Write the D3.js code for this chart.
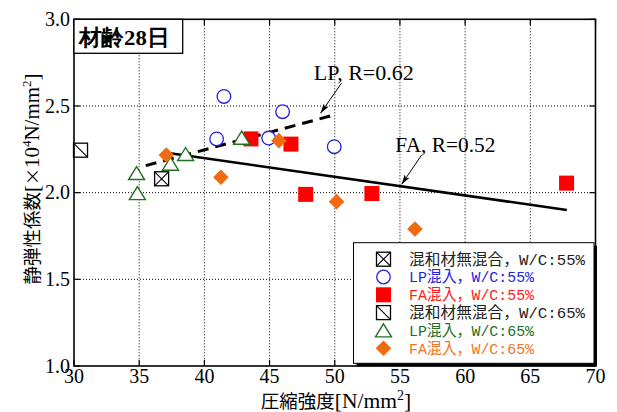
<!DOCTYPE html>
<html>
<head>
<meta charset="utf-8">
<script src="https://cdn.jsdelivr.net/npm/d3@7/dist/d3.min.js"></script>
<style>
  body { margin: 0; background: #fff; }
  svg { display: block; }
</style>
</head>
<body>
<div id="chart"></div>
<script>
// valeurs (材齢28日)
const xTicks = [30, 35, 40, 45, 50, 55, 60, 65, 70];
const yTicks = [1.0, 1.5, 2.0, 2.5, 3.0];
const xGrid = [35, 40, 45, 50, 55, 60, 65];
const yGrid = [1.5, 2.0, 2.5];

const nonMix55 = [[36.72, 2.08]];
const lp55 = [[40.94, 2.31], [41.5, 2.555], [44.93, 2.315], [46.0, 2.467], [49.96, 2.265]];
const fa55 = [[43.57, 2.31], [46.64, 2.28], [47.77, 1.99], [52.85, 1.995], [67.78, 2.055]];
const nonMix65 = [[30.5, 2.245]];
const lp65 = [[34.8, 2.113], [34.86, 1.997], [37.4, 2.167], [38.56, 2.223], [42.86, 2.317]];
const fa65 = [[37.08, 2.217], [41.27, 2.089], [45.72, 2.30], [50.14, 1.948], [56.15, 1.79]];

const lpFit = [[35.5, 2.156], [49.7, 2.443]];
const faFit = [[37.1, 2.23], [67.8, 1.90]];

const legendLabels = ["混和材無混合，W/C:55%", "LP混入，W/C:55%", "FA混入，W/C:55%",
                      "混和材無混合，W/C:65%", "LP混入，W/C:65%", "FA混入，W/C:65%"];

const series = [
  { data: nonMix55, shape: "xbox", color: "#000", text: "#222" },
  { data: lp55, shape: "circle", color: "#2424dc", text: "#2424dc" },
  { data: fa55, shape: "square", color: "#ff0000", text: "#ff1a1a" },
  { data: nonMix65, shape: "bsbox", color: "#000", text: "#222" },
  { data: lp65, shape: "triangle", color: "#237023", text: "#237023" },
  { data: fa65, shape: "diamond", color: "#ef6b12", text: "#ef7526" }
];

const width = 617, height = 412;
const plotLeft = 74, plotRight = 595.5, plotTop = 19.3, plotBottom = 366;

const x = d3.scaleLinear().domain([30, 70]).range([plotLeft, plotRight]);
const y = d3.scaleLinear().domain([1, 3]).range([plotBottom, plotTop]);

const svg = d3.select("#chart").append("svg")
  .attr("width", width)
  .attr("height", height);

const defs = svg.append("defs");
defs.append("marker")
  .attr("id", "arrow")
  .attr("markerUnits", "userSpaceOnUse")
  .attr("viewBox", "0 0 10 6")
  .attr("refX", 10).attr("refY", 3)
  .attr("markerWidth", 10).attr("markerHeight", 6)
  .attr("orient", "auto")
  .append("path")
  .attr("d", "M0,0 L10,3 L0,6 L2.5,3 Z")
  .attr("fill", "#000");

// grille pointillée
svg.append("g").selectAll("line").data(xGrid).join("line")
  .attr("x1", d => x(d)).attr("x2", d => x(d))
  .attr("y1", plotTop).attr("y2", plotBottom)
  .attr("stroke", "#000").attr("stroke-width", 1)
  .attr("stroke-dasharray", "1,2");
svg.append("g").selectAll("line").data(yGrid).join("line")
  .attr("y1", d => y(d)).attr("y2", d => y(d))
  .attr("x1", plotLeft).attr("x2", plotRight)
  .attr("stroke", "#000").attr("stroke-width", 1)
  .attr("stroke-dasharray", "1,2");

// ticks internes
const tickG = svg.append("g").attr("stroke", "#000").attr("stroke-width", 1.2);
yTicks.forEach(t => {
  tickG.append("line").attr("x1", plotLeft).attr("x2", plotLeft + 6).attr("y1", y(t)).attr("y2", y(t));
  tickG.append("line").attr("x1", plotRight).attr("x2", plotRight - 6).attr("y1", y(t)).attr("y2", y(t));
});
xTicks.forEach(t => {
  tickG.append("line").attr("x1", x(t)).attr("x2", x(t)).attr("y1", plotBottom).attr("y2", plotBottom - 6);
  tickG.append("line").attr("x1", x(t)).attr("x2", x(t)).attr("y1", plotTop).attr("y2", plotTop + 6);
});

// droites de régression
const line = d3.line().x(d => x(d[0])).y(d => y(d[1]));
svg.append("path").datum(lpFit).attr("d", line)
  .attr("fill", "none").attr("stroke", "#000").attr("stroke-width", 3)
  .attr("stroke-dasharray", "11,7");
svg.append("path").datum(faFit).attr("d", line)
  .attr("fill", "none").attr("stroke", "#000").attr("stroke-width", 2.5);

function drawMarker(g, shape, color) {
  if (shape === "xbox" || shape === "bsbox") {
    g.append("rect").attr("x", -7).attr("y", -7).attr("width", 14).attr("height", 14)
      .attr("fill", "#fff").attr("stroke", "#000").attr("stroke-width", 1.3);
    g.append("line").attr("x1", -7).attr("y1", -7).attr("x2", 7).attr("y2", 7)
      .attr("stroke", "#000").attr("stroke-width", 1.1);
    if (shape === "xbox") {
      g.append("line").attr("x1", 7).attr("y1", -7).attr("x2", -7).attr("y2", 7)
        .attr("stroke", "#000").attr("stroke-width", 1.1);
    }
  } else if (shape === "circle") {
    g.append("circle").attr("r", 6.8).attr("fill", "#fff")
      .attr("stroke", color).attr("stroke-width", 1.3);
  } else if (shape === "square") {
    g.append("rect").attr("x", -7.5).attr("y", -7.5).attr("width", 15).attr("height", 15)
      .attr("fill", color);
  } else if (shape === "triangle") {
    g.append("path").attr("d", "M0,-6.5 L8,6.5 L-8,6.5 Z")
      .attr("fill", "#fff").attr("stroke", color).attr("stroke-width", 1.4);
  } else if (shape === "diamond") {
    g.append("path").attr("d", "M0,-7.8 L7.8,0 L0,7.8 L-7.8,0 Z").attr("fill", color);
  }
}

// points
series.forEach(s => {
  svg.append("g").selectAll("g").data(s.data).join("g")
    .attr("transform", d => `translate(${x(d[0])},${y(d[1])})`)
    .each(function () { drawMarker(d3.select(this), s.shape, s.color); });
});

// cadre
svg.append("rect")
  .attr("x", plotLeft).attr("y", plotTop)
  .attr("width", plotRight - plotLeft).attr("height", plotBottom - plotTop)
  .attr("fill", "none").attr("stroke", "#000").attr("stroke-width", 1.6);

// étiquettes des axes
const serif = "'Liberation Serif', 'Times New Roman', serif";
const cjk = "'Noto Sans CJK JP', sans-serif";

svg.append("g").selectAll("text").data(xTicks).join("text")
  .attr("x", d => x(d)).attr("y", 383)
  .attr("text-anchor", "middle")
  .attr("font-family", serif).attr("font-size", 20)
  .text(d => d);
svg.append("g").selectAll("text").data(yTicks).join("text")
  .attr("x", 70).attr("y", d => y(d)).attr("dy", "0.33em")
  .attr("text-anchor", "end")
  .attr("font-family", serif).attr("font-size", 20)
  .text(d => d.toFixed(1));

const xLabel = svg.append("text")
  .attr("x", 336).attr("y", 407.5)
  .attr("text-anchor", "middle")
  .attr("font-family", serif).attr("font-size", 21.5);
xLabel.append("tspan").attr("font-family", cjk).attr("font-size", 18.5).text("圧縮強度");
xLabel.append("tspan").text("[N/mm");
xLabel.append("tspan").attr("font-size", 14).attr("dy", -8).text("2");
xLabel.append("tspan").attr("dy", 8).text("]");

const yLabel = svg.append("text")
  .attr("transform", "translate(39,179) rotate(-90)")
  .attr("text-anchor", "middle")
  .attr("font-family", serif).attr("font-size", 21);
yLabel.append("tspan").attr("font-family", cjk).attr("font-size", 18.5).text("静弾性係数");
yLabel.append("tspan").text("[");
yLabel.append("tspan").attr("font-family", cjk).attr("font-size", 17).text("×");
yLabel.append("tspan").text("10");
yLabel.append("tspan").attr("font-size", 13).attr("dy", -8).text("4");
yLabel.append("tspan").attr("dy", 8).text("N/mm");
yLabel.append("tspan").attr("font-size", 13).attr("dy", -8).text("2");
yLabel.append("tspan").attr("dy", 8).text("]");

// titre 材齢28日
svg.append("rect")
  .attr("x", plotLeft).attr("y", plotTop)
  .attr("width", 108.7).attr("height", 34)
  .attr("fill", "#fff").attr("stroke", "#000").attr("stroke-width", 1.3);
svg.append("text")
  .attr("x", 78.5).attr("y", 45)
  .attr("font-family", serif).attr("font-weight", "bold").attr("font-size", 22)
  .attr("textLength", 91).attr("lengthAdjust", "spacingAndGlyphs")
  .text("材齢28日");

// annotations R
const notes = [
  { label: "LP, R=0.62", tx: 48.4, ty: 2.65, from: [50.51, 2.631], to: [48.91, 2.458] },
  { label: "FA, R=0.52", tx: 54.65, ty: 2.233, from: [56.66, 2.217], to: [55.13, 2.048] }
];
notes.forEach(n => {
  svg.append("text")
    .attr("x", x(n.tx)).attr("y", y(n.ty))
    .attr("font-family", serif).attr("font-size", 21)
    .attr("textLength", 100).attr("lengthAdjust", "spacingAndGlyphs")
    .text(n.label);
  svg.append("line")
    .attr("x1", x(n.from[0])).attr("y1", y(n.from[1]))
    .attr("x2", x(n.to[0])).attr("y2", y(n.to[1]))
    .attr("stroke", "#000").attr("stroke-width", 1)
    .attr("marker-end", "url(#arrow)");
});

// légende
const lg = svg.append("g").attr("transform", "translate(353.5,242.7)");
lg.append("rect").attr("x", 3).attr("y", 3).attr("width", 240.5).attr("height", 120.6).attr("fill", "#000");
lg.append("rect").attr("width", 240.5).attr("height", 120.6)
  .attr("fill", "#fff").attr("stroke", "#000").attr("stroke-width", 1);
series.forEach((s, i) => {
  const cy = 16.5 + i * 17.8;
  const m = lg.append("g").attr("transform", `translate(30,${cy})`);
  drawMarker(m, s.shape, s.color);
  const long = legendLabels[i].startsWith("混和材");
  lg.append("text")
    .attr("x", 55.5).attr("y", cy + 5.5)
    .attr("font-family", "'Liberation Mono', 'Noto Sans CJK JP', monospace")
    .attr("font-size", 15.5)
    .attr("fill", s.text)
    .attr("textLength", long ? 176 : 125).attr("lengthAdjust", "spacingAndGlyphs")
    .text(legendLabels[i]);
});
</script>
</body>
</html>
